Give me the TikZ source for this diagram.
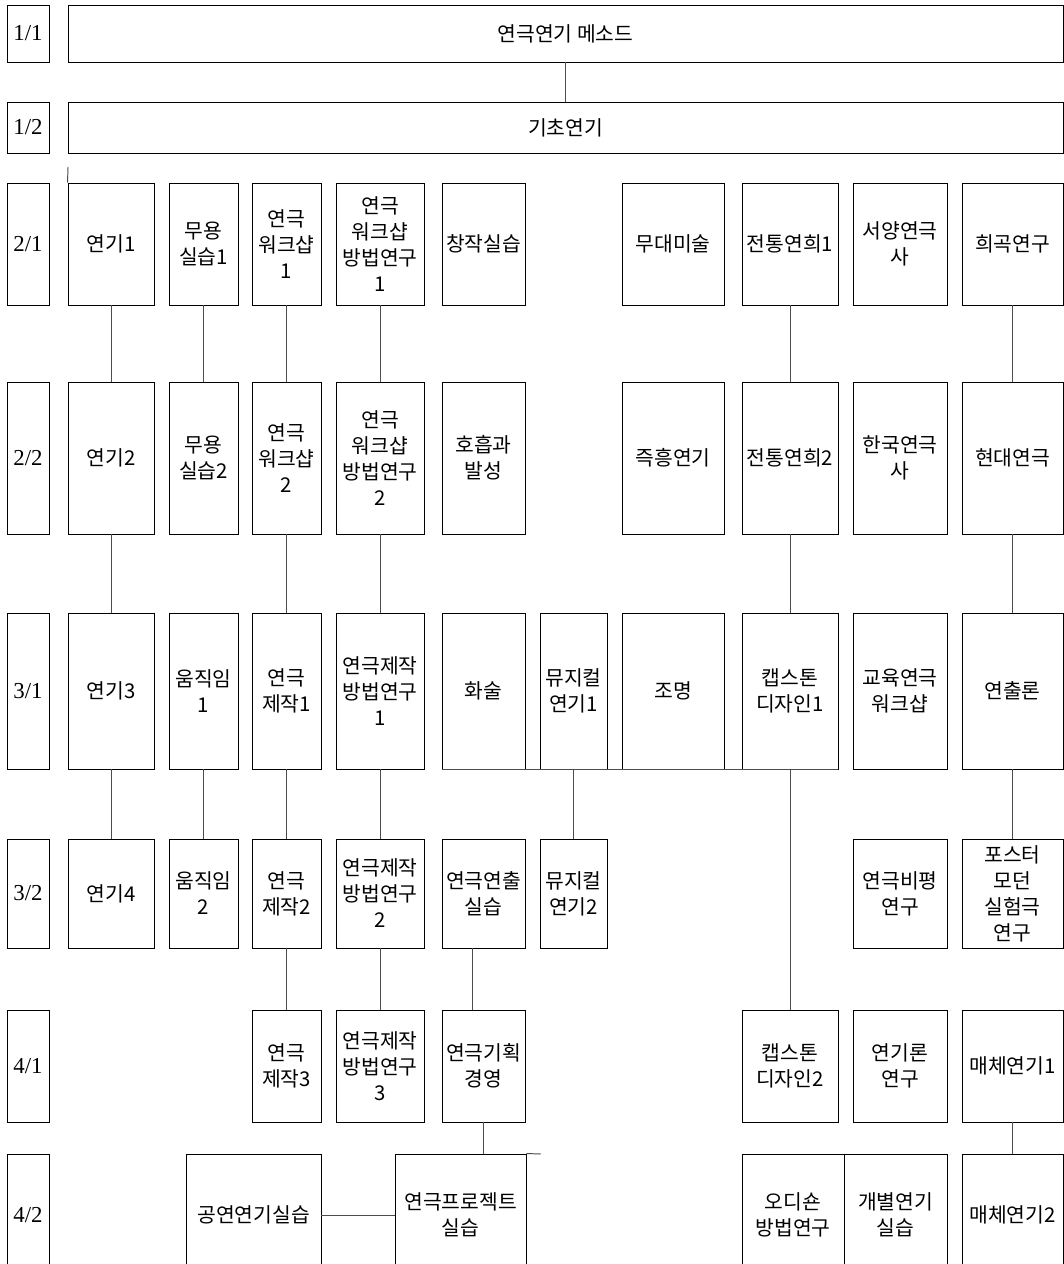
\documentclass[tikz,border=0pt]{standalone}
\usepackage{fontspec}
\setmainfont{Liberation Serif}
\newfontfamily\kr{Noto Sans CJK KR}
\usepackage{tikz}
\usetikzlibrary{calc}
\newcommand{\px}{0.02cm}
\tikzset{box/.style={draw,line width=0.55pt,inner sep=0pt,align=center,
                     font=\kr\fontsize{11.6pt}{14.8pt}\selectfont},
         lab/.style={draw,line width=0.55pt,inner sep=0pt,minimum width=42*\px,
                     font=\fontsize{13pt}{15pt}\selectfont},
         link/.style={line width=0.55pt,black!70},
         wide/.style={minimum width=995*\px},
         wA/.style={minimum width=86*\px},
         wB/.style={minimum width=69*\px},
         wC/.style={minimum width=69*\px},
         wD/.style={minimum width=88*\px},
         wE/.style={minimum width=83*\px},
         wF/.style={minimum width=67*\px},
         wG/.style={minimum width=102*\px},
         wH/.style={minimum width=96*\px},
         wI/.style={minimum width=94*\px},
         wJ/.style={minimum width=101*\px},
         h11/.style={minimum height=57*\px},
         h12/.style={minimum height=51*\px},
         h21/.style={minimum height=122*\px},
         h22/.style={minimum height=152*\px},
         h31/.style={minimum height=156*\px},
         h32/.style={minimum height=109*\px},
         h41/.style={minimum height=112*\px},
         h42/.style={minimum height=122*\px}
         }

\begin{document}
\begin{tikzpicture}[x=0.02cm,y=-0.02cm]
        \useasboundingbox (0,0) rectangle (1064,1264);
        \fill[white] (0,0) rectangle (1064,1264);
        \clip (0,0) rectangle (1064,1264);

        % year 1
        \node[lab, h11] (L11) at (28,33.5) {1/1};
        \node[box, wide, h11] (W11) at (565.5,33.5) {연극연기 메소드};
        \node[lab, h12] (L12) at (28,127.5) {1/2};
        \node[box, wide, h12] (W12) at (565.5,127.5) {기초연기};

        % year 2
        \node[lab, h21] (L21) at (28,244) {2/1};
        \node[box, wA, h21] (A21) at (111,244) {연기1};
        \node[box, wB, h21] (B21) at (203.5,244) {무용\\실습1};
        \node[box, wC, h21] (C21) at (286.5,244) {연극\\워크샵\\1};
        \node[box, wD, h21] (D21) at (380,244) {연극\\워크샵\\방법연구\\1};
        \node[box, wE, h21] (E21) at (483.5,244) {창작실습};
        \node[box, wG, h21] (G21) at (673,244) {무대미술};
        \node[box, wH, h21] (H21) at (790,244) {전통연희1};
        \node[box, wI, h21] (I21) at (900,244) {서양연극\\사};
        \node[box, wJ, h21] (J21) at (1012.5,244) {희곡연구};

        \node[lab, h22] (L22) at (28,458) {2/2};
        \node[box, wA, h22] (A22) at (111,458) {연기2};
        \node[box, wB, h22] (B22) at (203.5,458) {무용\\실습2};
        \node[box, wC, h22] (C22) at (286.5,458) {연극\\워크샵\\2};
        \node[box, wD, h22] (D22) at (380,458) {연극\\워크샵\\방법연구\\2};
        \node[box, wE, h22] (E22) at (483.5,458) {호흡과\\발성};
        \node[box, wG, h22] (G22) at (673,458) {즉흥연기};
        \node[box, wH, h22] (H22) at (790,458) {전통연희2};
        \node[box, wI, h22] (I22) at (900,458) {한국연극\\사};
        \node[box, wJ, h22] (J22) at (1012.5,458) {현대연극};

        % year 3
        \node[lab, h31] (L31) at (28,691) {3/1};
        \node[box, wA, h31] (A31) at (111,691) {연기3};
        \node[box, wB, h31] (B31) at (203.5,691) {움직임\\1};
        \node[box, wC, h31] (C31) at (286.5,691) {연극\\제작1};
        \node[box, wD, h31] (D31) at (380,691) {연극제작\\방법연구\\1};
        \node[box, wE, h31] (E31) at (483.5,691) {화술};
        \node[box, wF, h31] (F31) at (573.5,691) {뮤지컬\\연기1};
        \node[box, wG, h31] (G31) at (673,691) {조명};
        \node[box, wH, h31] (H31) at (790,691) {캡스톤\\디자인1};
        \node[box, wI, h31] (I31) at (900,691) {교육연극\\워크샵};
        \node[box, wJ, h31] (J31) at (1012.5,691) {연출론};

        \node[lab, h32] (L32) at (28,893.5) {3/2};
        \node[box, wA, h32] (A32) at (111,893.5) {연기4};
        \node[box, wB, h32] (B32) at (203.5,893.5) {움직임\\2};
        \node[box, wC, h32] (C32) at (286.5,893.5) {연극\\제작2};
        \node[box, wD, h32] (D32) at (380,893.5) {연극제작\\방법연구\\2};
        \node[box, wE, h32] (E32) at (483.5,893.5) {연극연출\\실습};
        \node[box, wF, h32] (F32) at (573.5,893.5) {뮤지컬\\연기2};
        \node[box, wI, h32] (I32) at (900,893.5) {연극비평\\연구};
        \node[box, wJ, h32] (J32) at (1012.5,893.5) {포스터\\모던\\실험극\\연구};

        % year 4
        \node[lab, h41] (L41) at (28,1066) {4/1};
        \node[box, wC, h41] (C41) at (286.5,1066) {연극\\제작3};
        \node[box, wD, h41] (D41) at (380,1066) {연극제작\\방법연구\\3};
        \node[box, wE, h41] (E41) at (483.5,1066) {연극기획\\경영};
        \node[box, wH, h41] (H41) at (790,1066) {캡스톤\\디자인2};
        \node[box, wI, h41] (I41) at (900,1066) {연기론\\연구};
        \node[box, wJ, h41] (J41) at (1012.5,1066) {매체연기1};

        \node[lab, h42] (L42) at (28,1215) {4/2};
        \node[box, minimum width=135*\px, h42] (K42) at (253.5,1215) {공연연기실습};
        \node[box, minimum width=131*\px, h42] (P42) at (460.5,1215) {연극프로젝트\\실습};
        \node[box, minimum width=102*\px, h42] (Q42) at (793,1215) {오디숀\\방법연구};
        \node[box, minimum width=103*\px, h42] (R42) at (895.5,1215) {개별연기\\실습};
        \node[box, wJ, h42] (J42) at (1012.5,1215) {매체연기2};

        \coordinate (T0) at (68,167);
        \coordinate (T1) at (541,1154);
        \coordinate (X1) at (472,0);

        \draw[link] (W11)--(W12);
        \draw[link] (T0)--(A21.north west);
        \draw[link] (A21)--(A22);
        \draw[link] (B21)--(B22);
        \draw[link] (C21)--(C22);
        \draw[link] (D21)--(D22);
        \draw[link] (H21)--(H22);
        \draw[link] (J21)--(J22);
        \draw[link] (A22)--(A31);
        \draw[link] (C22)--(C31);
        \draw[link] (D22)--(D31);
        \draw[link] (H22)--(H31);
        \draw[link] (J22)--(J31);
        \draw[link] (E31.south west)--(H31.south east);
        \draw[link] (A31)--(A32);
        \draw[link] (B31)--(B32);
        \draw[link] (C31)--(C32);
        \draw[link] (D31)--(D32);
        \draw[link] (F31)--(F32);
        \draw[link] (H31)--(H41);
        \draw[link] (J31)--(J32);
        \draw[link] (C32)--(C41);
        \draw[link] (D32)--(D41);
        \draw[link] (E32.south -| X1)--(E41.north -| X1);
        \draw[link] (J41)--(J42);
        \draw[link] (E41.south)--(E41.south |- P42.north);
        \draw[link] (P42.north east)--(T1);
        \draw[link] (K42)--(P42);

    \end{tikzpicture}
\end{document}
